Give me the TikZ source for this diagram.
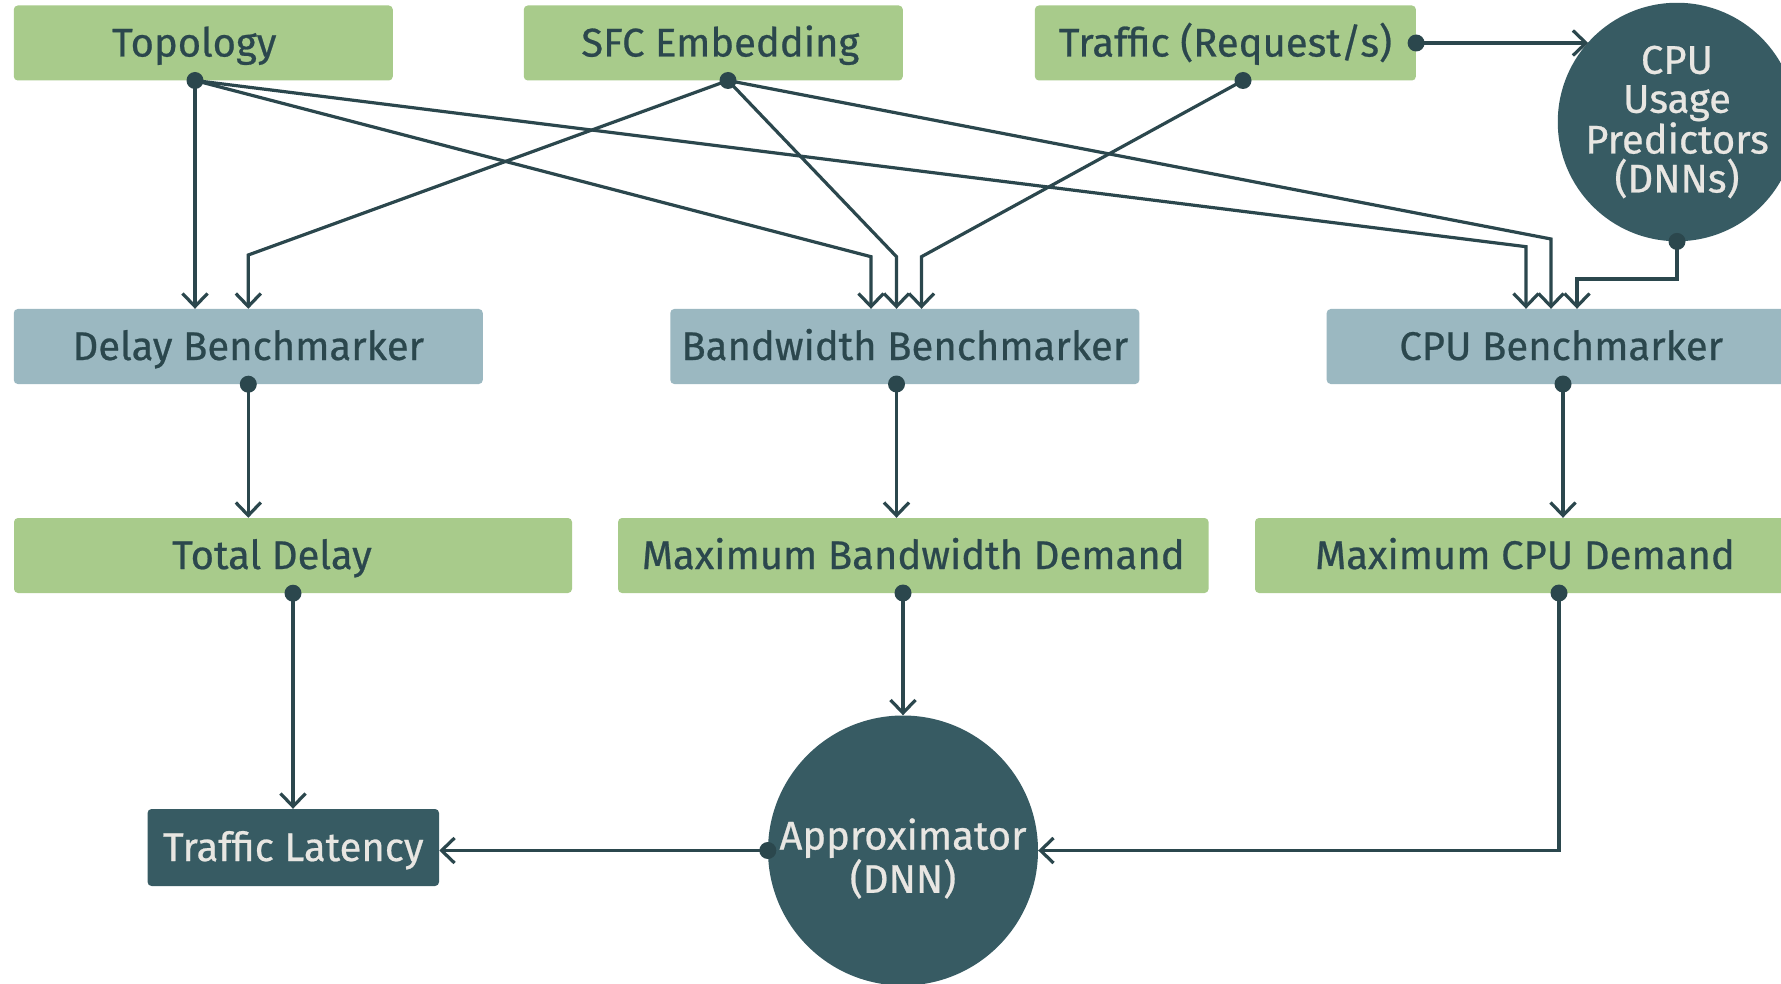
\documentclass[tikz,border=0pt]{standalone}
\usepackage{fontspec}
\setmainfont{Fira Sans}[FakeBold=0.6]
\usetikzlibrary{arrows.meta,calc}
\definecolor{boxgreen}{HTML}{A8CB8B}
\definecolor{boxblue}{HTML}{9BB8C1}
\definecolor{deepteal}{HTML}{375B63}
\definecolor{inkdark}{HTML}{2B474D}
\definecolor{paletext}{HTML}{E8E6E2}

\begin{document}
\begin{tikzpicture}[x=1pt,y=-1pt,
  every node/.style={font=\fontsize{40}{39}\selectfont},
  box/.style={rectangle, rounded corners=4pt, minimum height=75pt, inner sep=0pt,
              text height=27pt, text depth=0pt, text=inkdark},
  inbox/.style={box, fill=boxgreen},
  benchbox/.style={box, fill=boxblue, minimum width=469pt},
  darkbox/.style={box, fill=deepteal, text=paletext},
  blob/.style={circle, fill=deepteal, text=paletext, inner sep=0pt, align=center},
  blobtext/.style={text=paletext, inner sep=0pt, align=center},
  conn/.style={draw=inkdark, line width=3.2pt, -{Straight Barb[length=13pt,width=25pt]}},
  port/.style={fill=inkdark}
]
\useasboundingbox (0,0) rectangle (1781,984);
\fill[white] (0,0) rectangle (1781,984);

% inputs
\node[inbox, minimum width=379pt] (topo) at (203.3,43) {\hspace*{-18pt}Topology};
\node[inbox, minimum width=379pt] (sfc) at (713.3,43) {\hspace*{14pt}SFC Embedding};
\node[inbox, minimum width=381pt] (traffic) at (1225.4,43) {Traffic (Request/s)};
\node[blob, minimum size=234pt] (cpuPred) at (1677,122) {CPU\\Usage\\Predictors\\(DNNs)};

% benchmarkers
\node[benchbox] (delayB) at (248.3,346.5) {Delay Benchmarker};
\node[benchbox] (bwB) at (904.8,346.5) {Bandwidth Benchmarker};
\node[benchbox] (cpuB) at (1561.2,346.5) {CPU Benchmarker};

% benchmark results
\node[inbox, minimum width=558pt] (totalD) at (293,555.5) {\hspace*{-42pt}Total Delay};
\node[inbox, minimum width=590.5pt] (maxBW) at (913.3,555.5) {Maximum Bandwidth Demand};
\node[inbox, minimum width=540pt] (maxCPU) at (1525,555.5) {Maximum CPU Demand};

% output stage
\node[darkbox, minimum width=291.5pt, minimum height=77pt] (latency) at (293.3,847.5) {Traffic Latency};
\node[blob, minimum size=270pt] (approx) at (903,850.5) {};
\node[blobtext] (approxText) at ([yshift=-8pt]approx.center) {Approximator\\(DNN)};

% output ports
\coordinate (pTopo) at (195,80.5);
\coordinate (pSfc) at (728,80.5);
\coordinate (pTraf) at (1243,80.5);
\coordinate (pTrafR) at (traffic.east);
\coordinate (pPred) at (cpuPred.south);
\coordinate (pDelayB) at (delayB.south);
\coordinate (pBwB) at (896.5,384);
\coordinate (pCpuB) at (1563,384);
\coordinate (pTotal) at (totalD.south);
\coordinate (pMaxBW) at (903,593);
\coordinate (pMaxCPU) at (1559,593);
\coordinate (pApprox) at (approx.west);

% into the delay benchmarker
\draw[conn] (pTopo) -- (pTopo |- delayB.north);
\draw[conn] (pSfc) -- (delayB.north |- 0,255) -- (delayB.north);

% into the bandwidth benchmarker
\draw[conn] (pTopo) -- (871,256.7) -- (bwB.north -| 871,0);
\draw[conn] (pSfc) -- (896.5,256.7) -- (bwB.north -| 896.5,0);
\draw[conn] (pTraf) -- (921.5,256.7) -- (bwB.north -| 921.5,0);

% into the CPU benchmarker
\draw[conn] (pTopo) -- (1526,246.7) -- (cpuB.north -| 1526,0);
\draw[conn] (pSfc) -- (1551,239) -- (cpuB.north -| 1551,0);
\draw[conn] (pPred) -- (pPred |- 0,279) -- (1577,279) -- (cpuB.north -| 1577,0);

% traffic feeds the CPU usage predictors
\draw[conn] (pTrafR) -- (pTrafR -| cpuPred.138);

% benchmarkers to their results
\draw[conn] (pDelayB) -- (pDelayB |- totalD.north);
\draw[conn] (pBwB) -- (pBwB |- maxBW.north);
\draw[conn] (pCpuB) -- (pCpuB |- maxCPU.north);

% results to the approximator and latency
\draw[conn] (pTotal) -- (pTotal |- latency.north);
\draw[conn] (pMaxBW) -- (approx.north);
\draw[conn] (pMaxCPU) -- (pMaxCPU |- approx.east) -- (approx.east);
\draw[conn] (pApprox) -- (pApprox -| latency.east);

% port dots
\foreach \p in {pTopo,pSfc,pTraf,pTrafR,pPred,pDelayB,pBwB,pCpuB,pTotal,pMaxBW,pMaxCPU,pApprox}
  \fill[port] (\p) circle (8.5);
\end{tikzpicture}
\end{document}
